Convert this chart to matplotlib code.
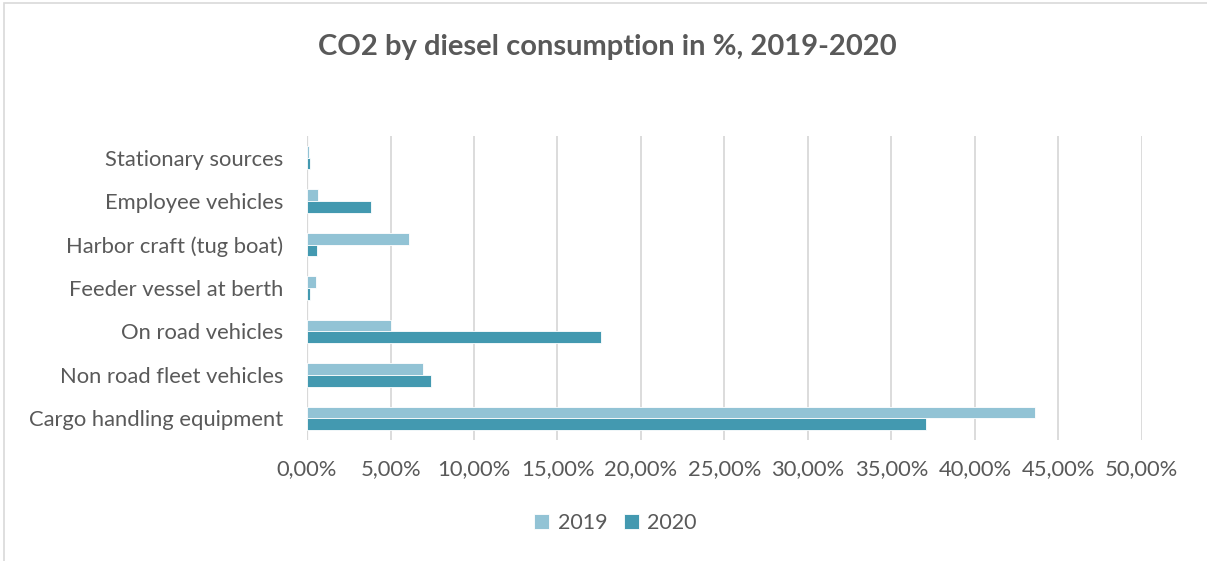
import numpy as np
import matplotlib.pyplot as plt
from matplotlib.patches import Rectangle
from matplotlib.ticker import FuncFormatter

categories = ['Cargo handling equipment', 'Non road fleet vehicles', 'On road vehicles',
              'Feeder vessel at berth', 'Harbor craft (tug boat)', 'Employee vehicles',
              'Stationary sources']
v2019 = [43.6, 6.95, 5.05, 0.55, 6.1, 0.68, 0.12]
v2020 = [37.1, 7.42, 17.6, 0.16, 0.62, 3.8, 0.2]

c2019 = '#92C3D5'
c2020 = '#4399B0'
grey = '#595959'

plt.rcParams['font.family'] = ['Lato', 'DejaVu Sans']

fig = plt.figure(figsize=(12.07, 5.61), dpi=100)
ax = fig.add_axes([0.2544, 0.2157, 0.6916, 0.5419])

y = np.arange(len(categories))
h = 0.27
ax.barh(y + h / 2, v2019, height=h, color=c2019, edgecolor='white', linewidth=0.6, label='2019', zorder=3)
ax.barh(y - h / 2, v2020, height=h, color=c2020, edgecolor='white', linewidth=0.6, label='2020', zorder=3)

ax.set_xlim(0, 50)
ax.set_ylim(-0.5, len(categories) - 0.5)
ax.set_xticks(np.arange(0, 51, 5))
ax.xaxis.set_major_formatter(FuncFormatter(lambda v, p: f'{v:.2f}%'.replace('.', ',')))
ax.set_yticks(y)
ax.set_yticklabels(categories)
ax.tick_params(length=0, labelsize=15.8, colors=grey)
ax.tick_params(axis='y', pad=17)
ax.tick_params(axis='x', pad=14)
ax.grid(axis='x', color='#D9D9D9', linewidth=1.3, zorder=0)
for s in ax.spines.values():
    s.set_visible(False)
ax.axvline(0, color='#D9D9D9', linewidth=1.6, zorder=1)

fig.text(0.503, 0.916, 'CO2 by diesel consumption in %, 2019-2020', ha='center', va='center',
         fontsize=21, fontweight='bold', color=grey)

leg = fig.legend(loc='center', bbox_to_anchor=(0.51, 0.067), ncol=2, frameon=False,
                 fontsize=15.5, handlelength=0.7, handleheight=0.7, columnspacing=0.75,
                 handletextpad=0.4, labelcolor=grey)

fig.patches.append(Rectangle((0.0035, -0.1), 1.2, 1.094, transform=fig.transFigure,
                             fill=False, edgecolor='#D9D9D9', linewidth=1.2))

fig.savefig('out.png', dpi=100)
